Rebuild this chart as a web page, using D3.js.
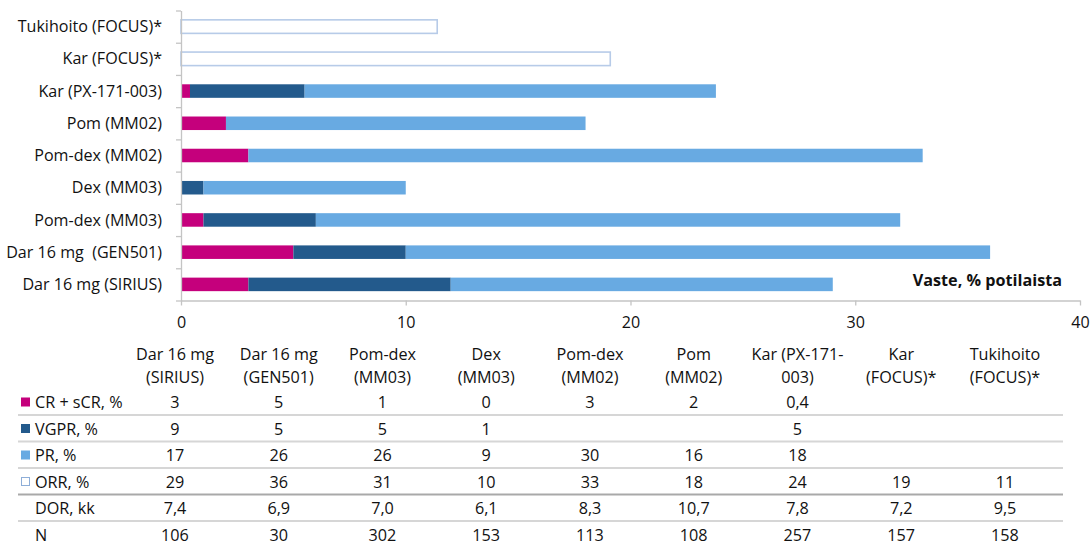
<!DOCTYPE html>
<html>
<head>
<meta charset="utf-8">
<script src="https://cdn.jsdelivr.net/npm/d3@7"></script>
<style>
  html, body { margin: 0; padding: 0; background: #ffffff; }
  svg { display: block; font-family: "Open Sans", sans-serif; }
</style>
</head>
<body>
<svg id="chart" width="1090" height="544"></svg>
<script>
// ---------- data ----------
const categories = ["Dar 16 mg (SIRIUS)", "Dar 16 mg  (GEN501)", "Pom-dex (MM03)", "Dex (MM03)",
  "Pom-dex (MM02)", "Pom (MM02)", "Kar (PX-171-003)", "Kar (FOCUS)*", "Tukihoito (FOCUS)*"];
const crValues   = [3, 5, 1, 0, 3, 2, 0.4, 0, 0];
const vgprValues = [9, 5, 5, 1, 0, 0, 5.1, 0, 0];
const prValues   = [17, 26, 26, 9, 30, 16, 18.3, 0, 0];
const orrOutline = [0, 0, 0, 0, 0, 0, 0, 19.1, 11.4];
const xTicks = [0, 10, 20, 30, 40];
const axisTitle = "Vaste, % potilaista";

const tableHeaders = [["Dar 16 mg", "(SIRIUS)"], ["Dar 16 mg", "(GEN501)"], ["Pom-dex", "(MM03)"],
  ["Dex", "(MM03)"], ["Pom-dex", "(MM02)"], ["Pom", "(MM02)"], ["Kar (PX-171-", "003)"],
  ["Kar", "(FOCUS)*"], ["Tukihoito", "(FOCUS)*"]];
const rowLabels = ["CR + sCR, %", "VGPR, %", "PR, %", "ORR, %", "DOR, kk", "N"];
const rowCR   = ["3", "5", "1", "0", "3", "2", "0,4", "", ""];
const rowVGPR = ["9", "5", "5", "1", "", "", "5", "", ""];
const rowPR   = ["17", "26", "26", "9", "30", "16", "18", "", ""];
const rowORR  = ["29", "36", "31", "10", "33", "18", "24", "19", "11"];
const rowDOR  = ["7,4", "6,9", "7,0", "6,1", "8,3", "10,7", "7,8", "7,2", "9,5"];
const rowN    = ["106", "30", "302", "153", "113", "108", "257", "157", "158"];

// ---------- styling ----------
const colors = { cr: "#c5007c", vgpr: "#235a8c", pr: "#68aae2", orr: "#b7cbe8" };
const svg = d3.select("#chart");
const axisColor = "#c4c4c4";
const textColor = "#111111";

// font size fitted so that a sample string reaches a target width
function fitSize(sample, targetWidth, weight) {
  const t = svg.append("text").style("font-size", "100px").style("font-weight", weight || "normal").text(sample);
  const w = t.node().getComputedTextLength();
  t.remove();
  return Math.round(100 * targetWidth / w * 10) / 10;
}
const tableFont = Math.min(16.5, fitSize("Dar 16 mg", 78));
const labelFont = Math.min(16.5, fitSize("Tukihoito (FOCUS)*", 144));
const titleFont = Math.min(18, fitSize(axisTitle, 149, "bold"));

const x = d3.scaleLinear().domain([0, 40]).range([181, 1080]);
const yOrder = categories.slice().reverse();
const y = d3.scaleBand().domain(yOrder).range([10.5, 300.5]).paddingInner(0.58).paddingOuter(0.29);
const yLin = d3.scaleLinear().domain([0, categories.length]).range([300.5, 10.5]);

// stacked data
const stackInput = categories.map((c, i) => ({ cat: c, cr: crValues[i], vgpr: vgprValues[i], pr: prValues[i] }));
const stack = d3.stack().keys(["cr", "vgpr", "pr"])(stackInput);

const gBars = svg.append("g");
stack.forEach(layer => {
  gBars.selectAll(null).data(layer).enter().append("rect")
    .attr("x", d => x(d[0]))
    .attr("width", d => Math.max(0, x(d[1]) - x(d[0])))
    .attr("y", d => y(d.data.cat))
    .attr("height", y.bandwidth())
    .attr("fill", colors[layer.key]);
});
gBars.selectAll(null).data(categories.map((c, i) => ({ cat: c, v: orrOutline[i] })).filter(d => d.v > 0))
  .enter().append("rect")
  .attr("x", x(0))
  .attr("width", d => x(d.v) - x(0))
  .attr("y", d => y(d.cat))
  .attr("height", y.bandwidth())
  .attr("fill", "#ffffff")
  .attr("stroke", colors.orr)
  .attr("stroke-width", 1.6);

// axes
const xAxis = svg.append("g").attr("transform", "translate(0,300.5)")
  .call(d3.axisBottom(x).tickValues(xTicks).tickSize(5).tickPadding(11).tickSizeOuter(0));
xAxis.select(".domain").attr("stroke", axisColor).attr("stroke-width", 1.3);
xAxis.selectAll(".tick line").attr("stroke", axisColor).attr("stroke-width", 1.3);
xAxis.selectAll(".tick text").attr("fill", textColor).style("font-size", labelFont + "px")
  .style("font-family", "'Open Sans', sans-serif");

const yAxis = svg.append("g").attr("transform", "translate(181,0)")
  .call(d3.axisLeft(yLin).ticks(categories.length).tickSize(5).tickFormat("").tickSizeOuter(0));
yAxis.select(".domain").attr("stroke", axisColor).attr("stroke-width", 1.3);
yAxis.selectAll(".tick line").attr("stroke", axisColor).attr("stroke-width", 1.3);

// category labels
svg.append("g").selectAll("text").data(categories).enter().append("text")
  .attr("x", 162)
  .attr("y", d => y(d) + y.bandwidth() / 2)
  .attr("dy", "0.35em")
  .attr("text-anchor", "end")
  .attr("fill", textColor)
  .style("font-size", labelFont + "px")
  .style("white-space", "pre")
  .text(d => d);

// axis title
svg.append("text")
  .attr("x", 1062).attr("y", 286)
  .attr("text-anchor", "end")
  .attr("fill", textColor)
  .style("font-size", titleFont + "px").style("font-weight", "bold")
  .text(axisTitle);

// ---------- table ----------
const colX = d3.scalePoint().domain(d3.range(categories.length)).range([175, 1005]);
const gT = svg.append("g");
tableHeaders.forEach((h, i) => {
  h.forEach((line, j) => {
    gT.append("text").attr("x", colX(i)).attr("y", 360 + j * 23)
      .attr("text-anchor", "middle").attr("fill", textColor)
      .style("font-size", tableFont + "px").text(line);
  });
});

const rows = [rowCR, rowVGPR, rowPR, rowORR, rowDOR, rowN];
const rowY = d3.scaleLinear().domain([0, 5]).range([408, 540.5]);
const legendFill = [colors.cr, colors.vgpr, colors.pr, "#ffffff", null, null];

rows.forEach((r, ri) => {
  const yy = rowY(ri);
  r.forEach((v, ci) => {
    gT.append("text").attr("x", colX(ci)).attr("y", yy)
      .attr("text-anchor", "middle").attr("fill", textColor)
      .style("font-size", tableFont + "px").text(v);
  });
  gT.append("text").attr("x", 35).attr("y", yy)
    .attr("fill", textColor).style("font-size", tableFont + "px").text(rowLabels[ri]);
  if (legendFill[ri]) {
    const open = ri === 3;
    gT.append("rect").attr("x", open ? 21.5 : 21).attr("y", yy - 10.5 + (open ? 0.5 : 0))
      .attr("width", open ? 8 : 9).attr("height", open ? 8 : 9)
      .attr("fill", legendFill[ri])
      .attr("stroke", open ? "#8eaed8" : "none").attr("stroke-width", 1);
  }
  if (ri < rows.length - 1) {
    gT.append("line").attr("x1", 18).attr("x2", 1063)
      .attr("y1", yy + 7).attr("y2", yy + 7)
      .attr("stroke", ri === 3 ? "#a9a9a9" : "#d6d6d6").attr("stroke-width", 2);
  }
});
</script>
</body>
</html>
